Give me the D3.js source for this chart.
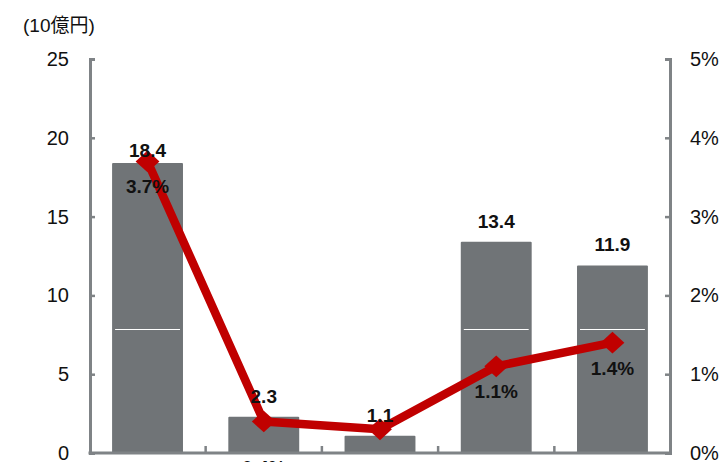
<!DOCTYPE html>
<html>
<head>
<meta charset="utf-8">
<script src="https://cdn.jsdelivr.net/npm/d3@7"></script>
<style>
  body { margin: 0; background: #fff; }
  svg { display: block; font-family: "Liberation Sans", Arial, "Noto Sans CJK JP", sans-serif; }
</style>
</head>
<body>
<div id="chart"></div>
<script>
// chart data
const categories = ['c1', 'c2', 'c3', 'c4', 'c5'];
const amounts = [18.4, 2.3, 1.1, 13.4, 11.9];          // 10億円, left axis
const ratios = [0.037, 0.004, 0.003, 0.011, 0.014];    // right axis
const splitValues = [7.85, null, null, 7.85, 7.85];    // white divider inside bars
const leftTicks = [0, 5, 10, 15, 20, 25];
const rightTicks = [0, 0.01, 0.02, 0.03, 0.04, 0.05];
const unitLabel = '(10億円)';

const width = 724, height = 462;
const margin = { top: 59, right: 54, bottom: 9, left: 90 };
const axisColor = '#7f8386';
const barColor = '#707477';
const lineColor = '#c00000';

const svg = d3.select('#chart').append('svg')
    .attr('width', width)
    .attr('height', height);

const x = d3.scaleBand()
    .domain(categories)
    .range([margin.left, width - margin.right])
    .paddingInner(0.39)
    .paddingOuter(0.19);

const yL = d3.scaleLinear().domain([0, 25]).range([height - margin.bottom, margin.top]);
const yR = d3.scaleLinear().domain([0, 0.05]).range([height - margin.bottom, margin.top]);

const data = categories.map((c, i) => ({ c, amount: amounts[i], ratio: ratios[i], split: splitValues[i] }));

// bars
svg.append('g').selectAll('rect')
    .data(data)
    .join('rect')
    .attr('x', d => x(d.c))
    .attr('y', d => yL(d.amount))
    .attr('width', x.bandwidth())
    .attr('height', d => yL(0) - yL(d.amount))
    .attr('rx', 1)
    .attr('fill', barColor);

// white dividers
svg.append('g').selectAll('line')
    .data(data.filter(d => d.split != null))
    .join('line')
    .attr('x1', d => x(d.c) + 3)
    .attr('x2', d => x(d.c) + x.bandwidth() - 3)
    .attr('y1', d => Math.round(yL(d.split)) + 0.5)
    .attr('y2', d => Math.round(yL(d.split)) + 0.5)
    .attr('stroke', '#fff')
    .attr('stroke-width', 1);

// left axis
const gL = svg.append('g')
    .attr('transform', `translate(${margin.left},0)`)
    .call(d3.axisLeft(yL).tickValues(leftTicks).tickSize(-5).tickPadding(21));
gL.select('.domain').attr('stroke', axisColor).attr('stroke-width', 3);
gL.selectAll('.tick line').attr('stroke', axisColor).attr('stroke-width', 2.5);
gL.selectAll('.tick text').style('font-size', '20px').style('fill', '#111');

// right axis
const gR = svg.append('g')
    .attr('transform', `translate(${width - margin.right},0)`)
    .call(d3.axisRight(yR).tickValues(rightTicks).tickSize(-5).tickPadding(20)
        .tickFormat(d3.format('.0%')));
gR.select('.domain').attr('stroke', axisColor).attr('stroke-width', 3);
gR.selectAll('.tick line').attr('stroke', axisColor).attr('stroke-width', 2.5);
gR.selectAll('.tick text').style('font-size', '20px').style('fill', '#111');

// bottom axis with dividers between categories
const y0 = yL(0);
svg.append('line')
    .attr('x1', margin.left - 1.5).attr('x2', width - margin.right + 1.5)
    .attr('y1', y0).attr('y2', y0)
    .attr('stroke', axisColor).attr('stroke-width', 3);
svg.append('g').selectAll('line')
    .data(categories.slice(1))
    .join('line')
    .attr('x1', d => x(d) - x.step() * x.paddingInner() / 2)
    .attr('x2', d => x(d) - x.step() * x.paddingInner() / 2)
    .attr('y1', y0).attr('y2', y0 - 7)
    .attr('stroke', axisColor).attr('stroke-width', 2.5);

// unit label
svg.append('text')
    .attr('x', 23).attr('y', 32)
    .style('font-size', '19px').style('fill', '#111')
    .text(unitLabel);

// ratio line
const line = d3.line()
    .x(d => x(d.c) + x.bandwidth() / 2)
    .y(d => yR(d.ratio));

svg.append('path')
    .datum(data)
    .attr('fill', 'none')
    .attr('stroke', lineColor)
    .attr('stroke-width', 8.5)
    .attr('stroke-linejoin', 'round')
    .attr('d', line);

svg.append('g').selectAll('path')
    .data(data)
    .join('path')
    .attr('transform', d => `translate(${x(d.c) + x.bandwidth() / 2},${yR(d.ratio)}) scale(1.1,1)`)
    .attr('d', d3.symbol().type(d3.symbolDiamond2).size(300))
    .attr('fill', lineColor);

// bar value labels
svg.append('g').selectAll('text')
    .data(data)
    .join('text')
    .attr('x', d => x(d.c) + x.bandwidth() / 2)
    .attr('y', d => yL(d.amount) - (d.amount > 15 ? 6 : 14))
    .attr('text-anchor', 'middle')
    .style('font-size', '19px').style('font-weight', 'bold').style('fill', '#111')
    .text(d => d.amount.toFixed(1));

// ratio labels
svg.append('g').selectAll('text')
    .data(data)
    .join('text')
    .attr('x', d => x(d.c) + x.bandwidth() / 2)
    .attr('y', d => {
        const py = yR(d.ratio) + 32;
        return py < y0 - 12 ? py : y0 + 21 + (0.004 - d.ratio) * 2500;
    })
    .attr('text-anchor', 'middle')
    .style('font-size', '19px').style('font-weight', 'bold').style('fill', '#111')
    .text(d => d3.format('.1%')(d.ratio));
</script>
</body>
</html>
